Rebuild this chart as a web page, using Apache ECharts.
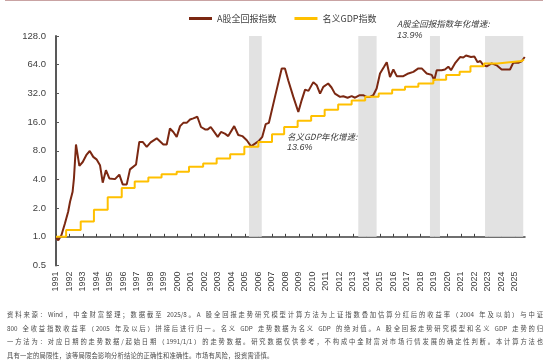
<!DOCTYPE html>
<html><head><meta charset="utf-8">
<script src="https://cdn.jsdelivr.net/npm/echarts@6/dist/echarts.min.js"></script>
<style>html,body{margin:0;padding:0;background:#fff}#c{width:550px;height:363px}</style>
</head><body><div id="c"></div>
<script>
// ---------- data ----------
const yearLabels = ["1991","1992","1993","1994","1995","1996","1997","1998","1999","2000","2001","2002","2003","2004","2005","2006","2007","2008","2009","2010","2011","2012","2013","2014","2015","2016","2017","2018","2019","2020","2021","2022","2023","2024","2025"];
const yTickLabels = ["0.5","1.0","2.0","4.0","8.0","16.0","32.0","64.0","128.0"];
const seriesNames = ["A股全回报指数","名义GDP指数"];
const aDates = [1991.0,1991.17,1991.4,1991.66,1991.9,1992.04,1992.23,1992.33,1992.48,1992.73,1992.98,1993.27,1993.5,1993.76,1994.0,1994.26,1994.46,1994.7,1994.95,1995.37,1995.69,1995.94,1996.24,1996.48,1996.93,1997.17,1997.42,1997.72,1998.01,1998.46,1998.95,1999.2,1999.44,1999.69,1999.94,2000.19,2000.43,2000.68,2000.93,2001.17,2001.47,2001.74,2002.04,2002.24,2002.46,2002.72,2002.98,2003.22,2003.51,2003.76,2004.2,2004.5,2004.8,2005.13,2005.45,2005.74,2006.04,2006.28,2006.53,2006.77,2007.22,2007.72,2007.96,2008.2,2008.58,2008.95,2009.2,2009.45,2009.7,2010.06,2010.31,2010.56,2010.8,2011.16,2011.41,2011.66,2012.04,2012.28,2012.6,2012.9,2013.15,2013.5,2013.75,2014.0,2014.25,2014.5,2014.75,2015.0,2015.3,2015.5,2015.74,2015.99,2016.24,2016.48,2016.73,2017.1,2017.47,2017.84,2018.09,2018.46,2018.83,2019.02,2019.2,2019.57,2019.81,2020.06,2020.26,2020.55,2020.93,2021.17,2021.37,2021.74,2021.99,2022.23,2022.43,2022.66,2022.9,2023.27,2023.64,2024.01,2024.38,2024.63,2024.87,2025.24,2025.49,2025.72];
const aValues = [0.98,0.92,1.04,1.38,1.83,2.33,2.97,4.1,9.3,5.55,6.1,7.3,7.95,6.9,6.5,5.65,3.7,5.0,4.1,4.03,4.5,3.55,3.55,5.1,5.75,9.9,9.9,8.8,9.8,10.8,9.3,9.3,13.7,12.6,11.2,14.5,15.7,15.7,17.0,17.5,18.2,14.2,13.4,13.4,14.2,12.6,11.2,12.6,12.1,11.4,14.5,11.7,11.4,10.3,8.9,9.5,10.2,11.2,15.2,15.7,29.4,58.5,58.5,44,29.4,20.4,27.2,35,34,42,39,31.8,37.5,40.6,36.9,31.8,29.4,29.9,28.8,29.9,28.8,30.6,30.6,29.4,29.4,30.6,36,51.8,60.9,68,47.5,57,48.5,48.5,48.5,51.8,53.8,58.5,58.5,51.8,50,44,56,56,57,61,56,66,77,76,80,77,78,68,70,63,61.6,66,63,57,57,57,67,67,69.5,77];
const gdpDates = [1991.0,1991.75,1992.83,1993.81,1994.83,1995.87,1996.83,1997.84,1998.82,1999.94,2000.85,2001.9,2002.9,2003.9,2004.95,2005.99,2007.0,2007.9,2008.9,2009.9,2010.9,2011.9,2012.9,2013.9,2014.9,2015.9,2016.85,2017.84,2018.95,2019.9,2020.9,2021.7,2022.7,2023.7,2024.6,2025.5,2025.66];
const gdpValues = [1.0,1.18,1.45,1.92,2.6,3.25,3.8,4.2,4.54,4.81,5.42,5.89,6.63,7.37,8.8,9.9,11.9,14.2,16.5,18.5,21.5,24.5,27.0,29.5,32.0,35.0,37.5,40.6,44.6,49.8,54,61.7,66,68,70,72.5,72.5];
const bandStarts = [2005.3,2013.39,2018.7,2022.78];
const bandEnds = [2006.24,2014.75,2019.44,2025.61];
const noteA = ["A股全回报指数年化增速:","13.9%"];
const noteG = ["名义GDP年化增速:","13.6%"];
const footerLines = [
 "资料来源：Wind，中金财富整理；数据截至 2025/8。A 股全回报走势研究模型计算方法为上证指数叠加估算分红后的收益率（2004 年及以前）与中证",
 "800 全收益指数收益率（2005 年及以后）拼接后进行归一。名义 GDP 走势数据为名义 GDP 的绝对值。A 股全回报走势研究模型和名义 GDP 走势的归",
 "一方法为：对应日期的走势数据/起始日期（1991/1/1）的走势数据。研究数据仅供参考，不构成中金财富对市场行情发展的确定性判断。本计算方法也",
 "具有一定的局限性，该等局限会影响分析结论的正确性和准确性。市场有风险，投资需谨慎。"
];

// ---------- layout ----------
const W = 550, H = 363;
const grid = {left:56, right:25, top:36, bottom:97.5};
const plotH = H - grid.top - grid.bottom;
const oneOffset = -plotH / 8; // x axis line drawn at value 1.0
const yearNums = yearLabels.map(Number);
const CJK = '"Noto Sans CJK SC", sans-serif';
const LAT = '"Liberation Sans", Arial, sans-serif';

function zip(a,b){return a.map((v,i)=>[v,b[i]]);}

// justified footer
const measure = document.createElement('canvas').getContext('2d');
function footerGraphics(){
  const els = [];
  const fs = 6.3;
  measure.font = fs + 'px ' + CJK;
  const x0 = 7, x1 = 543;
  const ys = [315, 328.5, 342, 355.5];
  footerLines.forEach((line, li) => {
    const toks = line.match(/[A-Za-z0-9\/\.]+|\s|./gu);
    const widths = toks.map(t => measure.measureText(t).width);
    const total = widths.reduce((s,w)=>s+w,0);
    const justify = li < footerLines.length - 1;
    const extra = justify ? Math.max(0,(x1-x0-total)/(toks.length-1)) : 0.2;
    let x = x0;
    toks.forEach((t,i) => {
      if (t.trim()) els.push({type:'text', x:x, y:ys[li], silent:true,
        style:{text:t, font: fs+'px '+CJK, fill:'#4a4a4a', textVerticalAlign:'middle', textAlign:'left'}});
      x += widths[i] + extra;
    });
  });
  return els;
}

const chart = echarts.init(document.getElementById('c'), null, {renderer:'canvas', width:W, height:H});
const option = {
  animation:false,
  backgroundColor:'#ffffff',
  textStyle:{fontFamily:LAT},
  legend:{left:184, top:9, itemWidth:23, itemHeight:3, itemGap:18, icon:'rect',
    textStyle:{fontSize:9, color:'#404040', fontFamily:CJK}, data:seriesNames},
  grid:grid,
  xAxis:[
    {type:'value', min:1991, max:2025.74, position:'bottom',
      axisLine:{show:false}, axisTick:{show:false}, splitLine:{show:false},
      axisLabel:{customValues:yearNums, rotate:90, fontSize:9, color:'#404040', margin:6, fontFamily:LAT,
        formatter:v=>yearLabels[yearNums.indexOf(Math.round(v))]}},
    {type:'value', min:1991, max:2025.74, position:'bottom', offset:oneOffset,
      axisLine:{show:true, onZero:false, lineStyle:{color:'#404040', width:1.5}},
      axisTick:{show:true, inside:true, length:3, customValues:yearNums, lineStyle:{color:'#404040', width:1}},
      axisLabel:{show:false}, splitLine:{show:false}}
  ],
  yAxis:{type:'log', logBase:2, min:0.5, max:128,
    axisLine:{show:true, lineStyle:{color:'#595959', width:2}},
    axisTick:{show:true, inside:true, length:3, lineStyle:{color:'#595959'}},
    axisLabel:{fontSize:9.5, color:'#404040', margin:10, fontFamily:LAT,
      formatter:v=>{const s=Number(v).toFixed(1); return yTickLabels.includes(s)?s:'';}},
    splitLine:{show:false}},
  series:[
    {name:seriesNames[0], type:'line', xAxisIndex:0, symbol:'none', smooth:false,
      data:zip(aDates,aValues), color:'#7B2812',
      lineStyle:{width:2, color:'#7B2812'},
      markArea:{silent:true, itemStyle:{color:'#E2E2E2'},
        data:bandStarts.map((s,i)=>[{xAxis:s, yAxis:1},{xAxis:bandEnds[i], yAxis:128}])}},
    {name:seriesNames[1], type:'line', xAxisIndex:0, symbol:'none', step:'end',
      data:zip(gdpDates,gdpValues), color:'#FFC000',
      lineStyle:{width:2, color:'#FFC000'}}
  ],
  graphic:[
    {type:'line', silent:true, shape:{x1:5,y1:0.5,x2:543,y2:0.5}, style:{stroke:'#C9A3A3', lineWidth:1}},
    {type:'text', left:397, top:20, silent:true, style:{text:noteA[0], font:'italic 8.5px '+CJK, fill:'#404040'}},
    {type:'text', left:397, top:31, silent:true, style:{text:noteA[1], font:'italic 9px '+LAT, fill:'#404040'}},
    {type:'text', left:287, top:133, silent:true, style:{text:noteG[0], font:'italic 8.5px '+CJK, fill:'#404040'}},
    {type:'text', left:287, top:143, silent:true, style:{text:noteG[1], font:'italic 9px '+LAT, fill:'#404040'}}
  ].concat(footerGraphics())
};
chart.setOption(option);
</script>
</body></html>
